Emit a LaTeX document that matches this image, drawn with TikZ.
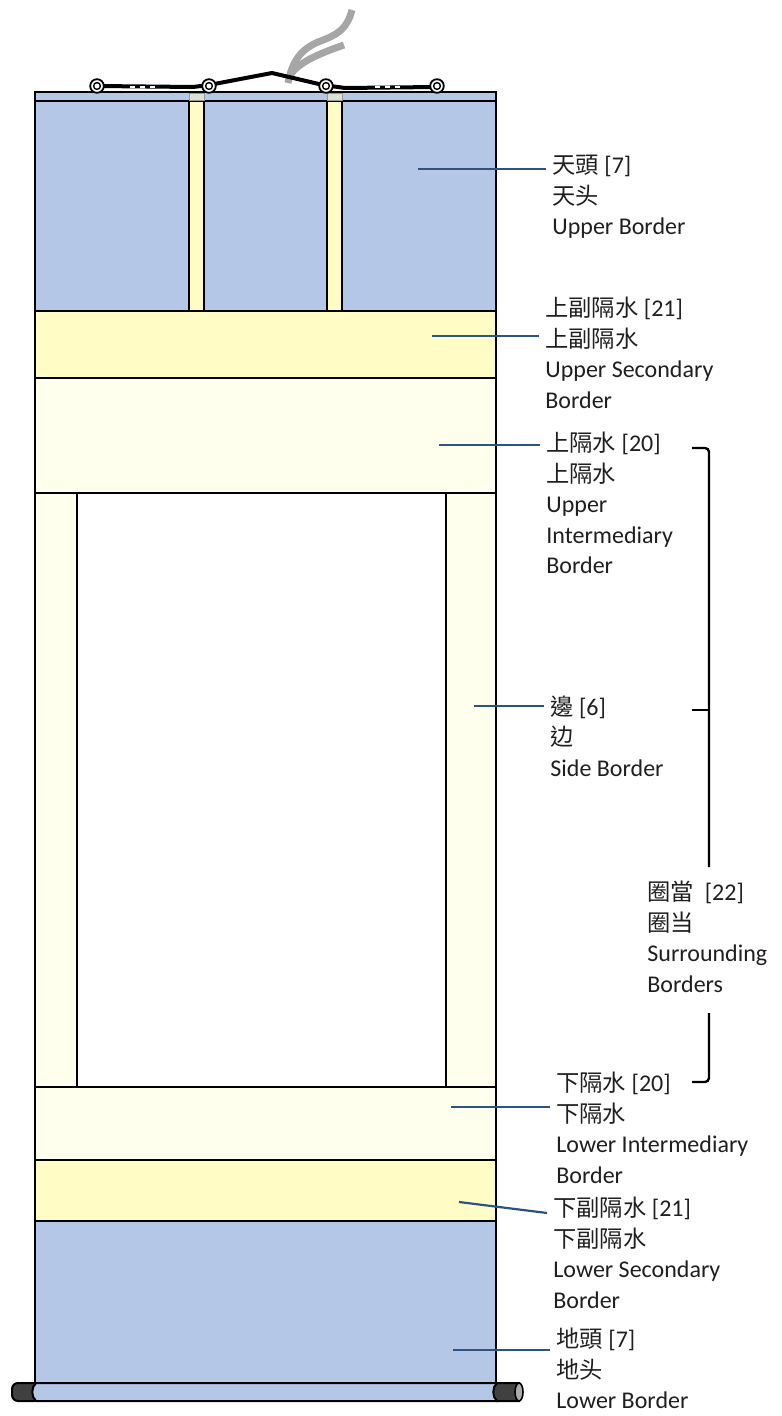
\documentclass[tikz,border=0pt]{standalone}
\usepackage{fontspec}
\setmainfont{Carlito}
\newfontfamily\cjk[Scale=0.97]{Noto Sans CJK TC}
\usepackage{xcolor}
\usetikzlibrary{calc}

\definecolor{bluefill}{RGB}{180,199,231}
\definecolor{yellowfill}{RGB}{255,253,197}
\definecolor{palefill}{RGB}{254,255,237}
\definecolor{leadblue}{RGB}{44,84,130}
\definecolor{capgray}{RGB}{64,64,64}

\tikzset{
  panel/.style={draw=black, line width=1pt},
  leader/.style={draw=leadblue, line width=1.1pt},
  brace/.style={draw=black, line width=1.2pt, rounded corners=2pt},
  lbl/.style={anchor=north west, align=left, inner xsep=3pt, inner ysep=0pt,
    font=\fontsize{12}{15.25}\selectfont, text=black!88},
  ribbon/.style={draw=black!35, line width=3.5pt},
}

\begin{document}
\begin{tikzpicture}[x=0.5pt,y=-0.5pt]
		\useasboundingbox (0,0) rectangle (781,1416);
		\def\L{35}\def\R{496}
		% hanging string
		\draw[ribbon] (288,83) .. controls (292,62) and (300,50) .. (318,42) .. controls (340,34) and (347,28) .. (352,10);
		\draw[ribbon] (291,74) .. controls (300,62) and (318,54) .. (344,45);
		% top rod and borders
		\draw[panel, fill=bluefill] (\L,92) rectangle (\R,101);
		\draw[panel, fill=bluefill] (\L,101) rectangle (\R,311);
		\foreach \x in {189,327}{
			\draw[panel, fill=yellowfill] (\x,101) rectangle (\x+15,311);
			\draw[draw=black!40, fill=yellowfill, fill opacity=0.5] (\x,93) rectangle (\x+15,100);
		}
		% cord and rings
		\draw[line width=2pt, line join=round] (97,86) -- (193,87) -- (209,85) -- (272,73) -- (323,85) -- (345,88) -- (437,87);
		\foreach \x in {130,375}
			\draw[white, line width=0.6pt, dash pattern=on 2.5pt off 2.5pt] (\x,87) -- (\x+27,87);
		\foreach \x in {97,209,326,437}{
			\draw[fill=white, line width=0.9pt] (\x,86) circle (3.4pt);
			\draw[line width=0.7pt] (\x,86) circle (1.7pt);
		}
		\draw[panel, fill=yellowfill] (\L,311) rectangle (\R,378);
		\draw[panel, fill=palefill] (\L,378) rectangle (\R,493);
		\draw[panel, fill=palefill] (\L,493) rectangle (77,1087);
		\draw[panel, fill=palefill] (446,493) rectangle (\R,1087);
		\draw[panel, fill=white] (77,493) rectangle (446,1087);
		\draw[panel, fill=palefill] (\L,1087) rectangle (\R,1160);
		\draw[panel, fill=yellowfill] (\L,1160) rectangle (\R,1221);
		\draw[panel, fill=bluefill] (\L,1221) rectangle (\R,1383);
		% roller
		\draw[panel, fill=capgray, rounded corners=3pt] (12,1383) rectangle (40,1401);
		\draw[panel, fill=bluefill] (36,1383) -- (497,1383) -- (497,1401) -- (36,1401) .. controls (31,1397) and (31,1387) .. (36,1383) -- cycle;
		\draw[panel, fill=capgray] (497,1383) -- (519,1383) -- (519,1401) -- (497,1401) .. controls (492,1397) and (492,1387) .. (497,1383) -- cycle;
		\draw[line width=0.8pt, fill=gray!65] (519,1392) ellipse (2pt and 4.5pt);
		% labels
		\node[lbl] (ub) at (546,155) {{\cjk 天頭} [7]\\{\cjk 天头}\\Upper Border};
		\node[lbl] (us) at (539,297) {{\cjk 上副隔水} [21]\\{\cjk 上副隔水}\\Upper Secondary\\Border};
		\node[lbl] (ui) at (540,432) {{\cjk 上隔水} [20]\\{\cjk 上隔水}\\Upper\\Intermediary\\Border};
		\node[lbl] (sd) at (544,695) {{\cjk 邊} [6]\\{\cjk 边}\\Side Border};
		\node[lbl] (sr) at (641,881) {{\cjk 圈當}\ \ [22]\\{\cjk 圈当}\\Surrounding\\Borders};
		\node[lbl] (li) at (550,1072) {{\cjk 下隔水} [20]\\{\cjk 下隔水}\\Lower Intermediary\\Border};
		\node[lbl] (ls) at (547,1197) {{\cjk 下副隔水} [21]\\{\cjk 下副隔水}\\Lower Secondary\\Border};
		\node[lbl] (lb) at (550,1328) {{\cjk 地頭} [7]\\{\cjk 地头}\\Lower Border};
		% leaders
		\coordinate (ubp) at (418,169);
		\coordinate (usp) at (432,336);
		\coordinate (uip) at (439,445);
		\coordinate (sdp) at (474,706);
		\coordinate (lip) at (451,1107);
		\coordinate (lsp) at (459,1202);
		\coordinate (lbp) at (453,1350);
		\draw[leader] (ubp) -- (ubp -| ub.west);
		\draw[leader] (usp) -- (usp -| us.west);
		\draw[leader] (uip) -- (uip -| ui.west);
		\draw[leader] (sdp) -- (sdp -| sd.west);
		\draw[leader] (lip) -- (lip -| li.west);
		\draw[leader] (lsp) -- ([yshift=-8pt]ls.north west);
		\draw[leader] (lbp) -- (lbp -| lb.west);
		% bracket
		\coordinate (bx) at (709,0);
		\coordinate (btop) at (692,448);
		\coordinate (btip) at (692,710);
		\coordinate (bbot) at (692,1082);
		\path ([yshift=7pt]sr.north) coordinate (sru) ([yshift=-10pt]sr.south) coordinate (srd);
		\draw[brace] (btop) -- (btop -| bx) -- (sru -| bx);
		\draw[brace] (btip) -- (btip -| bx);
		\draw[brace] (srd -| bx) -- (bbot -| bx) -- (bbot);
\end{tikzpicture}
\end{document}
